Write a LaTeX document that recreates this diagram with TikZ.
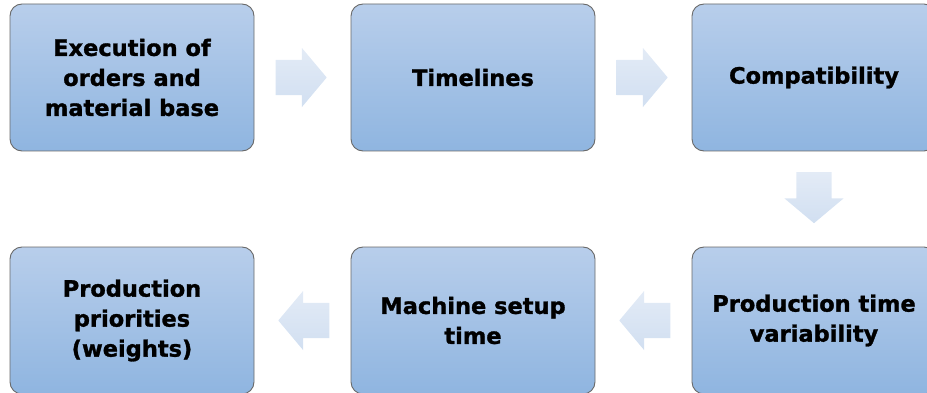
\documentclass[tikz,border=0pt]{standalone}
\usepackage{fontspec}
\setmainfont{DejaVu Sans}[BoldFeatures={FakeBold=1.3}]
\usepackage{tikz}
\usetikzlibrary{
  positioning,
  shapes.arrows,
  calc
}
\definecolor{boxtop}{RGB}{184,206,235}
\definecolor{boxbottom}{RGB}{143,181,224}
\definecolor{boxline}{RGB}{105,105,105}
\definecolor{arrowtop}{RGB}{227,235,246}
\definecolor{arrowbottom}{RGB}{209,223,241}
\tikzset{
  node distance=341pt,
  stage/.style={draw=boxline, line width=0.9pt, rounded corners=12pt,
    top color=boxtop, bottom color=boxbottom,
    minimum width=244pt, minimum height=147pt, align=center,
    font=\fontsize{22.5}{30}\selectfont\bfseries},
  flow/.style={single arrow, draw=none, anchor=tail,
    top color=arrowtop, bottom color=arrowbottom,
    minimum height=51pt, inner xsep=0pt, inner ysep=17.5pt,
    single arrow head extend=12pt, single arrow tip angle=100}
}

\begin{document}
\begin{tikzpicture}
    \useasboundingbox (0,0) rectangle (927pt,-393pt);
    \clip (0,0) rectangle (927pt,-393pt);
    % top row
    \node[stage] (orders) at (132pt,-77.5pt) {Execution of\\orders and\\material base};
    \node[stage, right of=orders] (timelines) {Timelines};
    \node[stage, right of=timelines] (compat) {Compatibility};
    % bottom row
    \node[stage, below of=compat, node distance=243pt] (variab) {Production time\\variability};
    \node[stage, left of=variab] (setup) {Machine setup\\time};
    \node[stage, left of=setup] (prio) {Production\\priorities\\(weights)};
    % block arrows
    \node[flow] (a1) at ($(orders)!0.5!(timelines)+(-27pt,0)$) {};
    \node[flow] (a2) at ($(timelines)!0.5!(compat)+(-27pt,0)$) {};
    \node[flow, rotate=-90] (a3) at ($(compat)!0.5!(variab)+(0,27pt)$) {};
    \node[flow, rotate=180] (a4) at ($(variab)!0.5!(setup)+(27pt,0)$) {};
    \node[flow, rotate=180] (a5) at ($(setup)!0.5!(prio)+(27pt,0)$) {};
\end{tikzpicture}
\end{document}
